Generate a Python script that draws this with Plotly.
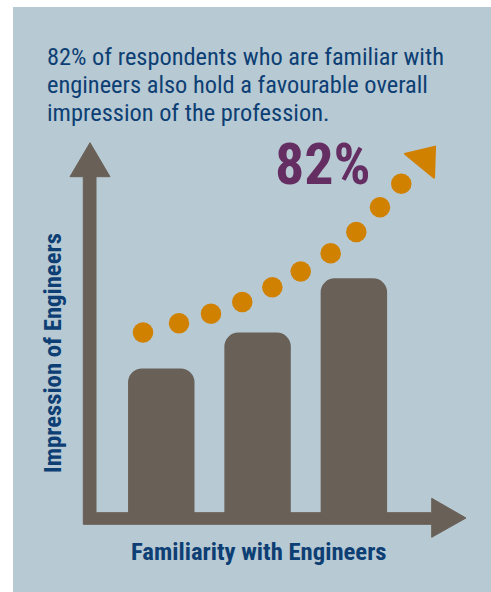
import plotly.graph_objects as go

W, H = 491, 592

# ---- data ----
familiarity_level = [1, 2, 3]
impression_score = [62.5, 77.4, 100.0]

trend_x = [0.810, 1.184, 1.516, 1.841, 2.153, 2.448, 2.759, 3.025, 3.271, 3.492]
trend_y = [77.4, 81.3, 85.3, 90.1, 96.3, 102.9, 110.4, 119.3, 129.6, 139.4]
trend_head_x = [3.735]
trend_head_y = [149.5]

title_lines = [
    "82% of respondents who are familiar with",
    "engineers also hold a favourable overall",
    "impression of the profession.",
]
highlight = "82%"
x_title = "Familiarity with Engineers"
y_title = "Impression of Engineers"

# ---- style ----
PANEL = "#b7c9d3"
BROWN = "#696058"
ORANGE = "#d18100"
PURPLE = "#652e63"
NAVY = "#0d3f74"
FONT = "Roboto Condensed, Noto Sans Condensed, DejaVu Sans Condensed, sans-serif"


def px(x, y):
    return x / W, 1 - y / H


def path(points):
    pts = [px(x, y) for x, y in points]
    return "M " + " L ".join(f"{a:.5f},{b:.5f}" for a, b in pts) + " Z"


fig = go.Figure()
fig.add_trace(go.Bar(x=familiarity_level, y=impression_score, width=0.69,
                     marker=dict(color=BROWN, line=dict(width=0)),
                     hoverinfo="skip"))
fig.add_trace(go.Scatter(x=trend_x, y=trend_y, mode="markers",
                         marker=dict(color=ORANGE, size=20.5, line=dict(width=0)),
                         hoverinfo="skip", cliponaxis=False))
fig.add_trace(go.Scatter(x=trend_head_x, y=trend_head_y, mode="markers",
                         marker=dict(color=ORANGE, size=33.5, symbol="triangle-up",
                                     angle=39.5, line=dict(width=1.5, color=ORANGE)),
                         hoverinfo="skip", cliponaxis=False))

shapes = [
    dict(type="rect", xref="paper", yref="paper",
         x0=13 / W, x1=1.0, y0=0.0, y1=1 - 7 / H,
         fillcolor=PANEL, line=dict(width=0), layer="below"),
    dict(type="path", xref="paper", yref="paper", layer="below",
         path=path([(83.3, 524.3), (83.3, 176.7), (70, 176.7), (90, 142.7),
                    (110, 176.7), (96, 176.7), (96, 512.7), (431.7, 512.7),
                    (431.7, 498.3), (466, 518), (431.7, 537.3), (431.7, 524.3)]),
         fillcolor=BROWN, line=dict(color=BROWN, width=1)),
]

annotations = []
for line, yc in zip(title_lines, [56.0, 84.2, 112.4]):
    annotations.append(dict(
        text=line, xref="paper", yref="paper", x=44.5 / W, y=1 - yc / H,
        xanchor="left", yanchor="middle", align="left", showarrow=False,
        font=dict(family=FONT, size=24.4, color=NAVY)))

annotations += [
    dict(text=f"<b>{highlight}</b>", xref="paper", yref="paper",
         x=323 / W, y=1 - 163.6 / H, xanchor="center", yanchor="middle",
         showarrow=False, font=dict(family=FONT, size=58, color=PURPLE)),
    dict(text=f"<b>{x_title}</b>", xref="paper", yref="paper",
         x=259 / W, y=1 - 551.6 / H, xanchor="center", yanchor="middle",
         showarrow=False, font=dict(family=FONT, size=24.7, color=NAVY)),
    dict(text=f"<b>{y_title}</b>", xref="paper", yref="paper",
         x=52.6 / W, y=1 - 353.4 / H, xanchor="center", yanchor="middle",
         textangle=-90, showarrow=False, font=dict(family=FONT, size=24.7, color=NAVY)),
]

fig.update_layout(
    width=W, height=H, autosize=False,
    margin=dict(l=0, r=0, t=0, b=0, pad=0),
    paper_bgcolor="white", plot_bgcolor="rgba(0,0,0,0)",
    showlegend=False, barcornerradius=14,
    xaxis=dict(range=[-0.675, 4.424], visible=False, fixedrange=True),
    yaxis=dict(range=[-30.6, 215.9], visible=False, fixedrange=True),
    shapes=shapes, annotations=annotations,
)

fig.write_html("out.html", config={"displayModeBar": False},
               post_script="document.body.style.margin='0';")
